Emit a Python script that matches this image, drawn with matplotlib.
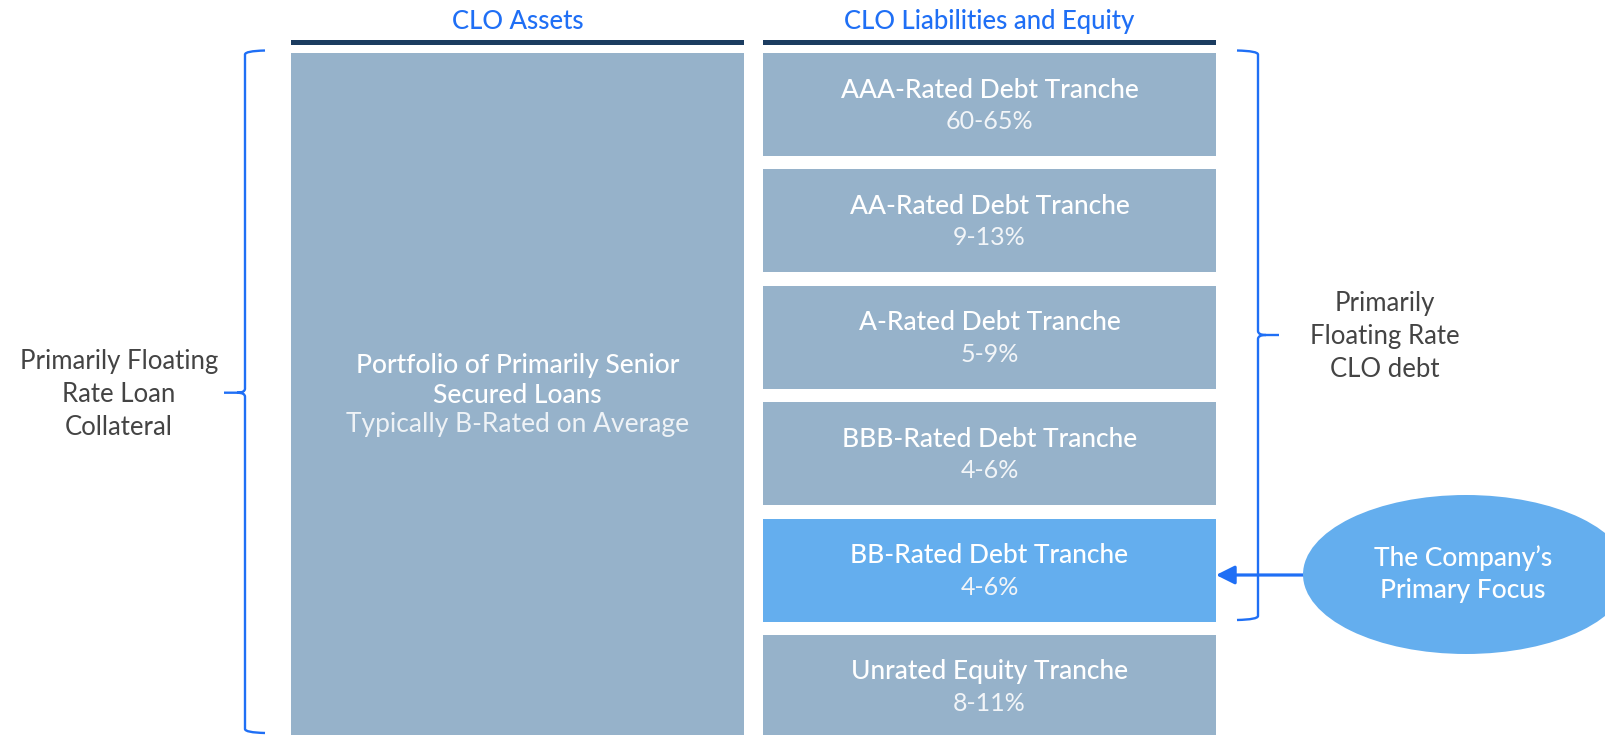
import matplotlib
matplotlib.use("Agg")
import matplotlib.pyplot as plt
from matplotlib.patches import Rectangle, Ellipse, PathPatch
from matplotlib.path import Path

plt.rcParams['font.family'] = ['Lato', 'DejaVu Sans']

# data
column_headers = ["CLO Assets", "CLO Liabilities and Equity"]
tranche_names = ["AAA-Rated Debt Tranche", "AA-Rated Debt Tranche", "A-Rated Debt Tranche",
                 "BBB-Rated Debt Tranche", "BB-Rated Debt Tranche", "Unrated Equity Tranche"]
tranche_ranges = ["60-65%", "9-13%", "5-9%", "4-6%", "4-6%", "8-11%"]
focus_tranche = "BB-Rated Debt Tranche"
asset_title = ["Portfolio of Primarily Senior", "Secured Loans"]
asset_sub = "Typically B-Rated on Average"
left_label = "Primarily Floating\nRate Loan\nCollateral"
right_label = "Primarily\nFloating Rate\nCLO debt"
focus_label = "The Company\u2019s\nPrimary Focus"

BOX = '#96b2ca'
FOCUS = '#64aeee'
NAVY = '#1b3c60'
BLUE = '#1f6ff5'
GREY = '#444444'

W, H = 1606, 735
fig = plt.figure(figsize=(W / 100, H / 100), dpi=100)
ax = fig.add_axes([0, 0, 1, 1])
ax.set_xlim(0, W)
ax.set_ylim(H, 0)
ax.axis('off')

# columns
col_x = [291, 763]
col_w = 453
top = 53
for x, head in zip(col_x, column_headers):
    ax.add_patch(Rectangle((x, 40), col_w, 4.5, color=NAVY, lw=0))
    ax.text(x + col_w / 2, 29, head, color=BLUE, fontsize=18.5, ha='center', va='baseline',
            fontweight='medium')

# assets block
ax.add_patch(Rectangle((col_x[0], top), col_w, H - top + 5, color=BOX, lw=0))
cx = col_x[0] + col_w / 2
ax.text(cx, 373, asset_title[0], color='white', fontsize=19, ha='center', va='baseline',
        fontweight='medium')
ax.text(cx, 403, asset_title[1], color='white', fontsize=19, ha='center', va='baseline',
        fontweight='medium')
ax.text(cx, 432, asset_sub, color='#eef2f6', fontsize=19, ha='center', va='baseline')

# liabilities tranches
pitch = 116.4
box_h = 103
for i, (name, rng) in enumerate(zip(tranche_names, tranche_ranges)):
    y = top + i * pitch
    fc = FOCUS if name == focus_tranche else BOX
    ax.add_patch(Rectangle((col_x[1], y), col_w, box_h, color=fc, lw=0))
    mid = y + box_h / 2
    ax.text(col_x[1] + col_w / 2, mid - 7, name, color='white', fontsize=19,
            ha='center', va='baseline', fontweight='medium')
    ax.text(col_x[1] + col_w / 2, mid + 24.5, rng, color='#f2f5f8', fontsize=18,
            ha='center', va='baseline')


def brace(x_line, x_end, x_tip, y0, y1, ym):
    r = 4
    s = 1 if x_end > x_line else -1
    verts = [(x_end, y0), (x_line, y0 + 0.5), (x_line, y0 + r),
             (x_line, ym - r), (x_line, ym), (x_line - s * 8, ym),
             (x_tip, ym),
             (x_line - s * 8, ym), (x_line, ym), (x_line, ym + r),
             (x_line, y1 - r), (x_line, y1 - 0.5), (x_end, y1)]
    codes = [Path.MOVETO, Path.CURVE3, Path.CURVE3,
             Path.LINETO, Path.CURVE3, Path.CURVE3,
             Path.LINETO,
             Path.MOVETO, Path.CURVE3, Path.CURVE3,
             Path.LINETO, Path.CURVE3, Path.CURVE3]
    ax.add_patch(PathPatch(Path(verts, codes), fc='none', ec=BLUE, lw=1.7,
                           capstyle='butt', joinstyle='round'))


brace(245, 265, 224, 50.5, 733, 392.7)
brace(1258, 1237, 1279, 50.5, 620, 335)

ax.text(119, 394, left_label, color=GREY, fontsize=18.5, ha='center', va='center',
        linespacing=1.4)
ax.text(1385, 336, right_label, color=GREY, fontsize=18.5, ha='center', va='center',
        linespacing=1.4)

# focus callout
ax.annotate('', xy=(col_x[1] + col_w, 575), xytext=(1310, 575),
            arrowprops=dict(arrowstyle='-|>', color=BLUE, lw=2.3, mutation_scale=28,
                            shrinkA=0, shrinkB=0))
ax.add_patch(Ellipse((1466, 574.5), 326, 159, color=FOCUS, lw=0, zorder=3))
ax.text(1463, 574, focus_label, color='white', fontsize=19, ha='center', va='center',
        linespacing=1.35, fontweight='medium', zorder=4)

fig.savefig('out.png', dpi=100)
